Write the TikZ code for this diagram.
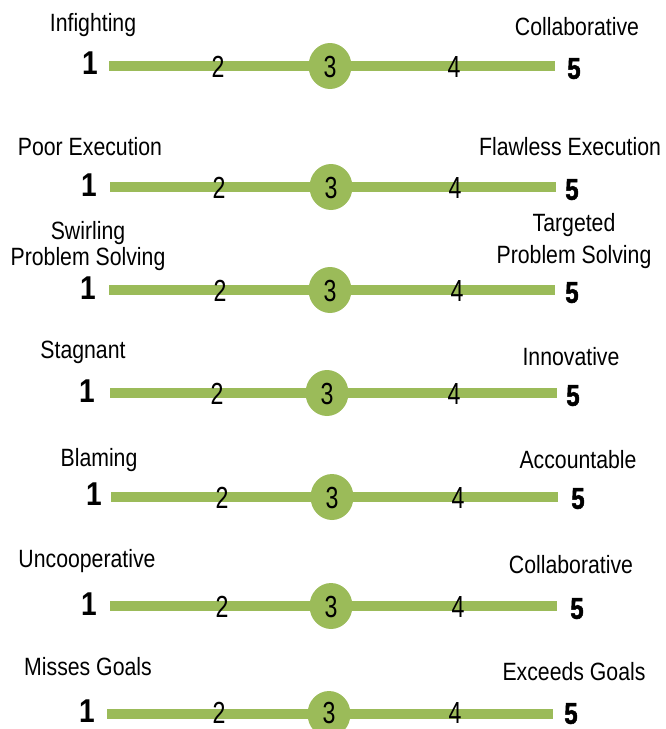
\documentclass[tikz,border=0pt]{standalone}
\usepackage{fontspec}
\setmainfont{Liberation Sans}[FakeStretch=0.85]
\newfontfamily\heavyfont{Liberation Sans}[FakeStretch=0.8, FakeBold=1.6]
\newfontfamily\narrowfont{Liberation Sans}[FakeStretch=0.76]
\usetikzlibrary{shapes.geometric}
\definecolor{scalegreen}{HTML}{9BBB59}
\tikzset{
  lbl/.style={font={\fontsize{25}{27}\selectfont}, text height=17.9pt, text depth=0pt, inner sep=0pt, anchor=center},
  mid/.style={font={\narrowfont\fontsize{30.5}{32}\selectfont}, text height=21.8pt, text depth=0pt, inner sep=0pt, anchor=center},
  one/.style={font={\bfseries\fontsize{33}{35}\selectfont}, text height=23.6pt, text depth=0pt, inner sep=0pt, anchor=center},
  five/.style={font={\heavyfont\bfseries\fontsize{30}{32}\selectfont}, text height=21.5pt, text depth=0pt, inner sep=0pt, anchor=center},
  bar/.style={draw=scalegreen, line width=10pt},
  knob/.style={ellipse, fill=scalegreen, minimum width=43pt, minimum height=46pt, inner sep=0pt}
}
\begin{document}
\begin{tikzpicture}[x=1pt,y=-1pt]
\useasboundingbox (0,0) rectangle (665,729);

% Row 1
\node[lbl] (l1) at (93,23) {Infighting};
\node[lbl] (r1) at (577,27) {Collaborative};
\coordinate (s1) at (109,66); \coordinate (e1) at (555,66);
\draw[bar] (s1) -- (e1);
\node[knob] (c1) at (330,66) {};
\node[one] (a1) at (90,63) {1};
\node[mid] (b1) at (218,67) {2};
\node[mid] (t1) at (c1.center) [yshift=-1pt] {3};
\node[mid] (d1) at (454,67) {4};
\node[five] (f1) at (574,68) {5};

% Row 2
\node[lbl] (l2) at (90,147) {Poor Execution};
\node[lbl] (r2) at (570,147) {Flawless Execution};
\coordinate (s2) at (110,187); \coordinate (e2) at (556,187);
\draw[bar] (s2) -- (e2);
\node[knob] (c2) at (331,187) {};
\node[one] (a2) at (89,185) {1};
\node[mid] (b2) at (219,188) {2};
\node[mid] (t2) at (c2.center) [yshift=-1pt] {3};
\node[mid] (d2) at (455,188) {4};
\node[five] (f2) at (572,189) {5};

% Row 3
\node[lbl] (l3a) at (88,231) {Swirling};
\node[lbl] (l3b) at (88,257) {Problem Solving};
\node[lbl] (r3a) at (574,223) {Targeted};
\node[lbl] (r3b) at (574,255) {Problem Solving};
\coordinate (s3) at (109,290); \coordinate (e3) at (555,290);
\draw[bar] (s3) -- (e3);
\node[knob] (c3) at (330,290) {};
\node[one] (a3) at (88,288) {1};
\node[mid] (b3) at (220,291) {2};
\node[mid] (t3) at (c3.center) [yshift=-1pt] {3};
\node[mid] (d3) at (457,291) {4};
\node[five] (f3) at (572,292) {5};

% Row 4
\node[lbl] (l4) at (83,350) {Stagnant};
\node[lbl] (r4) at (571,357) {Innovative};
\coordinate (s4) at (110,393); \coordinate (e4) at (557,393);
\draw[bar] (s4) -- (e4);
\node[knob] (c4) at (327,393) {};
\node[one] (a4) at (87,391) {1};
\node[mid] (b4) at (217,394) {2};
\node[mid] (t4) at (c4.center) [yshift=-1pt] {3};
\node[mid] (d4) at (454,394) {4};
\node[five] (f4) at (573,395) {5};

% Row 5
\node[lbl] (l5) at (99,458) {Blaming};
\node[lbl] (r5) at (578,460) {Accountable};
\coordinate (s5) at (111,497); \coordinate (e5) at (558,497);
\draw[bar] (s5) -- (e5);
\node[knob] (c5) at (332,497) {};
\node[one] (a5) at (94,494) {1};
\node[mid] (b5) at (222,498) {2};
\node[mid] (t5) at (c5.center) [yshift=-1pt] {3};
\node[mid] (d5) at (458,498) {4};
\node[five] (f5) at (578,498) {5};

% Row 6
\node[lbl] (l6) at (87,559) {Uncooperative};
\node[lbl] (r6) at (571,565) {Collaborative};
\coordinate (s6) at (110,606); \coordinate (e6) at (557,606);
\draw[bar] (s6) -- (e6);
\node[knob] (c6) at (331,606) {};
\node[one] (a6) at (89,604) {1};
\node[mid] (b6) at (222,607) {2};
\node[mid] (t6) at (c6.center) [yshift=-1pt] {3};
\node[mid] (d6) at (458,607) {4};
\node[five] (f6) at (577,608) {5};

% Row 7
\node[lbl] (l7) at (88,667) {Misses Goals};
\node[lbl] (r7) at (574,672) {Exceeds Goals};
\coordinate (s7) at (107,714); \coordinate (e7) at (553,714);
\draw[bar] (s7) -- (e7);
\node[knob] (c7) at (329,714) {};
\node[one] (a7) at (87,711) {1};
\node[mid] (b7) at (219,713) {2};
\node[mid] (t7) at (c7.center) [yshift=1pt] {3};
\node[mid] (d7) at (455,713) {4};
\node[five] (f7) at (571,713) {5};
\end{tikzpicture}
\end{document}
